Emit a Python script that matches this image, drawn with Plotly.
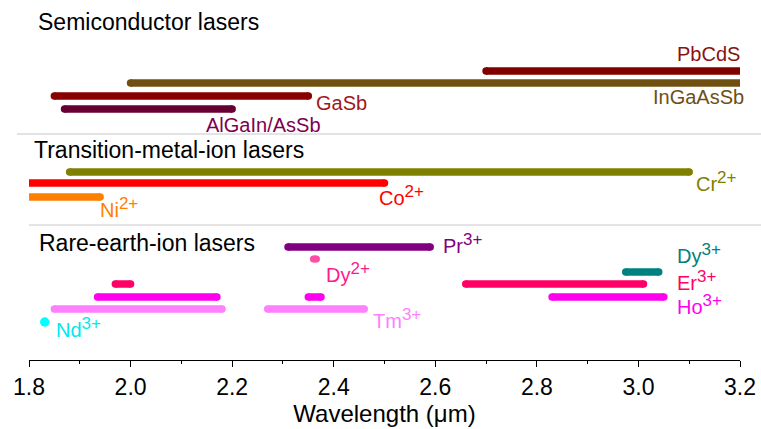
import plotly.graph_objects as go

# ---------------- data: wavelength ranges (µm) ----------------
semi_labels = ["PbCdS", "InGaAsSb", "GaSb", "AlGaIn/AsSb"]
semi_start = [2.70, 2.00, 1.85, 1.87]
semi_end = [3.20, 3.20, 2.35, 2.20]

tm_labels = ["Cr", "Co", "Ni"]
tm_charge = ["2+", "2+", "2+"]
tm_start = [1.88, 1.80, 1.80]
tm_end = [3.10, 2.50, 1.94]

re_ions = ["Pr3+", "Dy2+", "Dy3+", "Er3+", "Er3+", "Ho3+", "Ho3+", "Ho3+", "Tm3+", "Tm3+", "Nd3+"]
re_start = [2.31, 2.360, 2.975, 1.97, 2.66, 1.935, 2.350, 2.83, 1.85, 2.27, 1.831]
re_end = [2.59, 2.366, 3.040, 2.00, 3.01, 2.170, 2.375, 3.05, 2.18, 2.46, 1.831]

tick_vals = [1.8, 2.0, 2.2, 2.4, 2.6, 2.8, 3.0, 3.2]
tick_text = ["1.8", "2.0", "2.2", "2.4", "2.6", "2.8", "3.0", "3.2"]

# ---------------- styling / layout ----------------
XMIN, XMAX = 1.8, 3.2
FONT = "Liberation Sans, Arial, sans-serif"
BAR_W = 7.5

semi_rows = [71, 83, 96, 109]
semi_colors = ["#800000", "#705010", "#880000", "#660033"]
semi_label_colors = ["#8c1010", "#6e5014", "#a01818", "#800050"]

tm_rows = [172, 183, 197]
tm_colors = ["#808000", "#ff0000", "#ff8000"]

re_rows = {"Pr3+": 247, "Dy2+": 259, "Dy3+": 272, "Er3+": 284, "Ho3+": 297, "Tm3+": 309, "Nd3+": 322}
re_colors = {"Pr3+": "#800080", "Dy2+": "#ff4da6", "Dy3+": "#008080", "Er3+": "#ff0066",
             "Ho3+": "#ff00ee", "Tm3+": "#ff80ff", "Nd3+": "#00ffff"}

fig = go.Figure()


def add_bar(x0, x1, y, color, width=BAR_W):
    if x0 == x1:
        fig.add_trace(go.Scatter(x=[x0], y=[y], mode="markers",
                                 marker=dict(size=9.5, color=color, line=dict(width=0)),
                                 hoverinfo="skip", showlegend=False, cliponaxis=False))
        return
    fig.add_trace(go.Scatter(x=[x0, x1], y=[y, y], mode="lines",
                             line=dict(color=color, width=width),
                             hoverinfo="skip", showlegend=False, cliponaxis=False))
    caps = [v for v in (x0, x1) if XMIN < v < XMAX]
    if caps:
        fig.add_trace(go.Scatter(x=caps, y=[y] * len(caps), mode="markers",
                                 marker=dict(size=width, color=color, line=dict(width=0)),
                                 hoverinfo="skip", showlegend=False, cliponaxis=False))


for s, e, r, c in zip(semi_start, semi_end, semi_rows, semi_colors):
    add_bar(s, e, r, c)
for s, e, r, c in zip(tm_start, tm_end, tm_rows, tm_colors):
    add_bar(s, e, r, c)
for ion, s, e in zip(re_ions, re_start, re_end):
    add_bar(s, e, re_rows[ion], re_colors[ion], width=BAR_W if ion != "Dy2+" else 7)

ann = []


def px_to_paper(px):
    return (px - 29) / 711.0


def label(text, xpx, y, color, anchor="left", size=20):
    ann.append(dict(text=text, x=px_to_paper(xpx), y=y, xref="paper", yref="y",
                    xanchor=anchor, yanchor="middle",
                    showarrow=False, font=dict(family=FONT, size=size, color=color)))


def ion_text(sym, charge):
    return sym + '<sup><span style="font-size:17px">' + charge + "</span></sup>"


# section titles
label("Semiconductor lasers", 36, 22, "#000000", size=23)
label("Transition-metal-ion lasers", 32, 150, "#000000", size=23)
label("Rare-earth-ion lasers", 37, 243, "#000000", size=23)

# semiconductor labels
label(semi_labels[0], 742, 54, semi_label_colors[0], anchor="right")
label(semi_labels[1], 746, 97, semi_label_colors[1], anchor="right")
label(semi_labels[2], 314, 103, semi_label_colors[2])
label(semi_labels[3], 204, 125, semi_label_colors[3])

# transition-metal labels
tm_label_pos = [(694, 181), (377, 195), (98, 207)]
for sym, ch, (lx, ly), c in zip(tm_labels, tm_charge, tm_label_pos, tm_colors):
    label(ion_text(sym, ch), lx, ly, c)

# rare-earth labels
re_label_pos = {"Pr3+": (441, 243), "Dy2+": (324, 272), "Dy3+": (675, 253),
                "Er3+": (675, 280), "Ho3+": (675, 304), "Tm3+": (371, 318),
                "Nd3+": (54, 327)}
re_label_colors = {"Pr3+": "#800080", "Dy2+": "#ff1a8c", "Dy3+": "#008080", "Er3+": "#ff0066",
                   "Ho3+": "#ff00ee", "Tm3+": "#ff80ff", "Nd3+": "#00e8f0"}
for ion, (lx, ly) in re_label_pos.items():
    label(ion_text(ion[:2], ion[2:]), lx, ly, re_label_colors[ion])

shapes = [
    dict(type="line", xref="paper", yref="y", x0=-0.017, x1=1.04, y0=134, y1=134,
         line=dict(color="#c8c8c8", width=1)),
    dict(type="line", xref="paper", yref="y", x0=0.0, x1=1.04, y0=225, y1=225,
         line=dict(color="#c8c8c8", width=1)),
]

fig.update_layout(
    width=761, height=429,
    margin=dict(l=29, r=21, t=0, b=69),
    paper_bgcolor="white", plot_bgcolor="white",
    annotations=ann, shapes=shapes,
    font=dict(family=FONT, color="black"),
    xaxis=dict(range=[XMIN, XMAX], tickvals=tick_vals, ticktext=tick_text,
               showgrid=False, zeroline=False, showline=True, linecolor="black", linewidth=1,
               ticks="outside", ticklen=6, tickcolor="black", tickwidth=1,
               tickfont=dict(family=FONT, size=23, color="black"),
               minor=dict(dtick=0.1, tick0=1.8, ticks="outside", ticklen=3, tickcolor="black", showgrid=False),
               title=dict(text="Wavelength (μm)", font=dict(family=FONT, size=24, color="black"), standoff=4)),
    yaxis=dict(range=[360, 0], visible=False, fixedrange=True),
)

fig.write_html("out.html", config={"displayModeBar": False},
               post_script="document.body.style.margin='0';")
